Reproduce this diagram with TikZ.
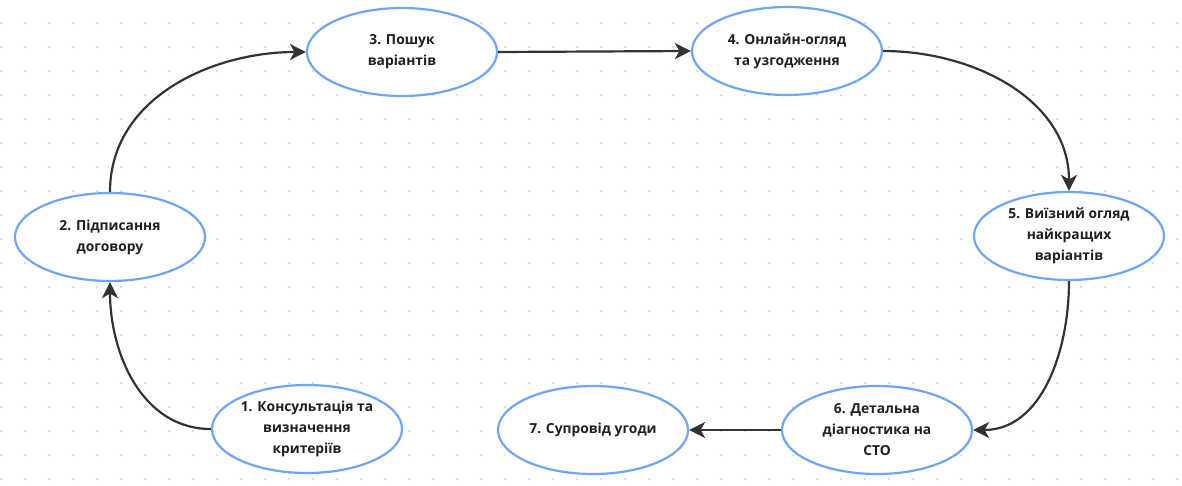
\documentclass[tikz,border=0pt]{standalone}
\usepackage{fontspec}
\setmainfont{Open Sans}
\usetikzlibrary{shapes.geometric,arrows.meta}
\definecolor{ellblue}{HTML}{6FA5F6}
\definecolor{linegray}{HTML}{333333}
\definecolor{dotgray}{HTML}{D2D2D2}
\definecolor{txt}{HTML}{1F1F1F}
\tikzset{
  stage/.style={ellipse, draw=ellblue, line width=2.2pt, fill=white,
    minimum width=190pt, minimum height=88pt, inner sep=0pt},
  stagetext/.style={align=center, text=txt,
    font=\fontsize{13.8pt}{21pt}\selectfont\bfseries},
  flow/.style={draw=linegray, line width=2.2pt,
    -{Stealth[length=16pt,width=16pt,inset=4.5pt]}},
}
\begin{document}
\begin{tikzpicture}[x=1pt,y=-1pt]
\useasboundingbox[fill=white] (0,0) rectangle (1182,485);
\foreach \i in {1,25,...,1182}{
  \foreach \j in {23,47,...,485}{
    \fill[dotgray] (\i,\j) circle (1.1pt);
  }
}
\node[stage,label={[stagetext]center:1. Консультація та\\визначення\\критеріїв}] (n1) at (307,429) {};
\node[stage,label={[stagetext]center:2. Підписання\\договору}] (n2) at (110,237) {};
\node[stage,label={[stagetext]center:3. Пошук\\варіантів}] (n3) at (402,52) {};
\node[stage,label={[stagetext]center:4. Онлайн-огляд\\та узгодження}] (n4) at (787,51) {};
\node[stage,label={[stagetext]center:5. Виїзний огляд\\найкращих\\варіантів}] (n5) at (1069,236) {};
\node[stage,label={[stagetext]center:6. Детальна\\діагностика на\\СТО}] (n6) at (877,430) {};
\node[stage,label={[stagetext]center:7. Супровід угоди}] (n7) at (593,430) {};

\draw[flow] (n1.west) to[out=180,in=-90] (n2.south);
\draw[flow] (n2.north) to[out=90,in=180] (n3.west);
\draw[flow] (n3.east) -- (n4.west);
\draw[flow] (n4.east) to[out=0,in=90] (n5.north);
\draw[flow] (n5.south) to[out=-90,in=0] (n6.east);
\draw[flow] (n6.west) -- (n7.east);
\end{tikzpicture}
\end{document}
